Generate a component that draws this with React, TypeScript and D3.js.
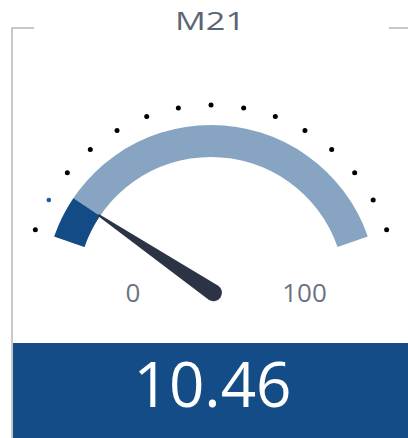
import React from "react";
import * as d3 from "d3";

const title = "M21";
const gaugeMin = 0;
const gaugeMax = 100;
const gaugeValue = 10.46;
const valueLabel = "10.46";
const rangeLabels = ["0", "100"];
const tickCount = 15;
const highlightedTicks = [1];

const W = 408;
const H = 438;

export default function App() {
  const cx = 211;
  const cy = 291;
  const outerR = 166;
  const innerR = 134;
  const dotR = 186;
  const half = (70.8 * Math.PI) / 180;

  const angle = d3.scaleLinear().domain([gaugeMin, gaugeMax]).range([-half, half]);
  const arcGen = d3.arc<any>().innerRadius(innerR).outerRadius(outerR);

  const bg = arcGen({ startAngle: angle(gaugeMin), endAngle: angle(gaugeMax) } as any) || "";
  const fg = arcGen({ startAngle: angle(gaugeMin), endAngle: angle(gaugeValue) } as any) || "";

  const tickValues = d3.range(tickCount).map((i) => gaugeMin + (i * (gaugeMax - gaugeMin)) / (tickCount - 1));

  const va = angle(gaugeValue);
  const deg = (va * 180) / Math.PI;
  const tipLen = 136;
  const back = 3;
  const capR = 8.5;
  const needlePath = `M ${-1} ${-tipLen} L ${1} ${-tipLen} L ${capR} ${back} A ${capR} ${capR} 0 0 1 ${-capR} ${back} Z`;

  return (
    <svg width={W} height={H} style={{ position: "absolute", left: 0, top: 0, display: "block" }}
      fontFamily="'Open Sans', sans-serif">
      <rect x={0} y={0} width={W} height={H} fill="#ffffff" />
      <path d={`M 12 ${H} L 12 28 L 34 28`} fill="none" stroke="#c8c8c8" strokeWidth={2} />
      <line x1={389} y1={28} x2={W} y2={28} stroke="#c8c8c8" strokeWidth={2} />
      <text x={210} y={29.5} textAnchor="middle" fontSize={26} fill="#5b6573"
        textLength={70} lengthAdjust="spacingAndGlyphs">{title}</text>

      <g transform={`translate(${cx},${cy})`}>
        {tickValues.map((v, i) => {
          const a = angle(v);
          const hl = highlightedTicks.includes(i);
          return (
            <circle key={i} cx={dotR * Math.sin(a)} cy={-dotR * Math.cos(a)} r={hl ? 2.3 : 2.5}
              fill={hl ? "#1f5c9c" : "#000000"} />
          );
        })}
        <path d={bg} fill="#87a5c3" />
        <path d={fg} fill="#124b86" />
        <path d={needlePath} fill="#2b3344" transform={`rotate(${deg})`} />
      </g>

      <text x={133} y={302} textAnchor="middle" fontSize={26} fill="#6b7380">{rangeLabels[0]}</text>
      <text x={304.5} y={302} textAnchor="middle" fontSize={26} fill="#6b7380">{rangeLabels[1]}</text>

      <rect x={13} y={343} width={W - 13} height={H - 343} fill="#134c86" />
      <text x={212.5} y={407} textAnchor="middle" fontSize={62} fill="#ffffff">{valueLabel}</text>
    </svg>
  );
}
